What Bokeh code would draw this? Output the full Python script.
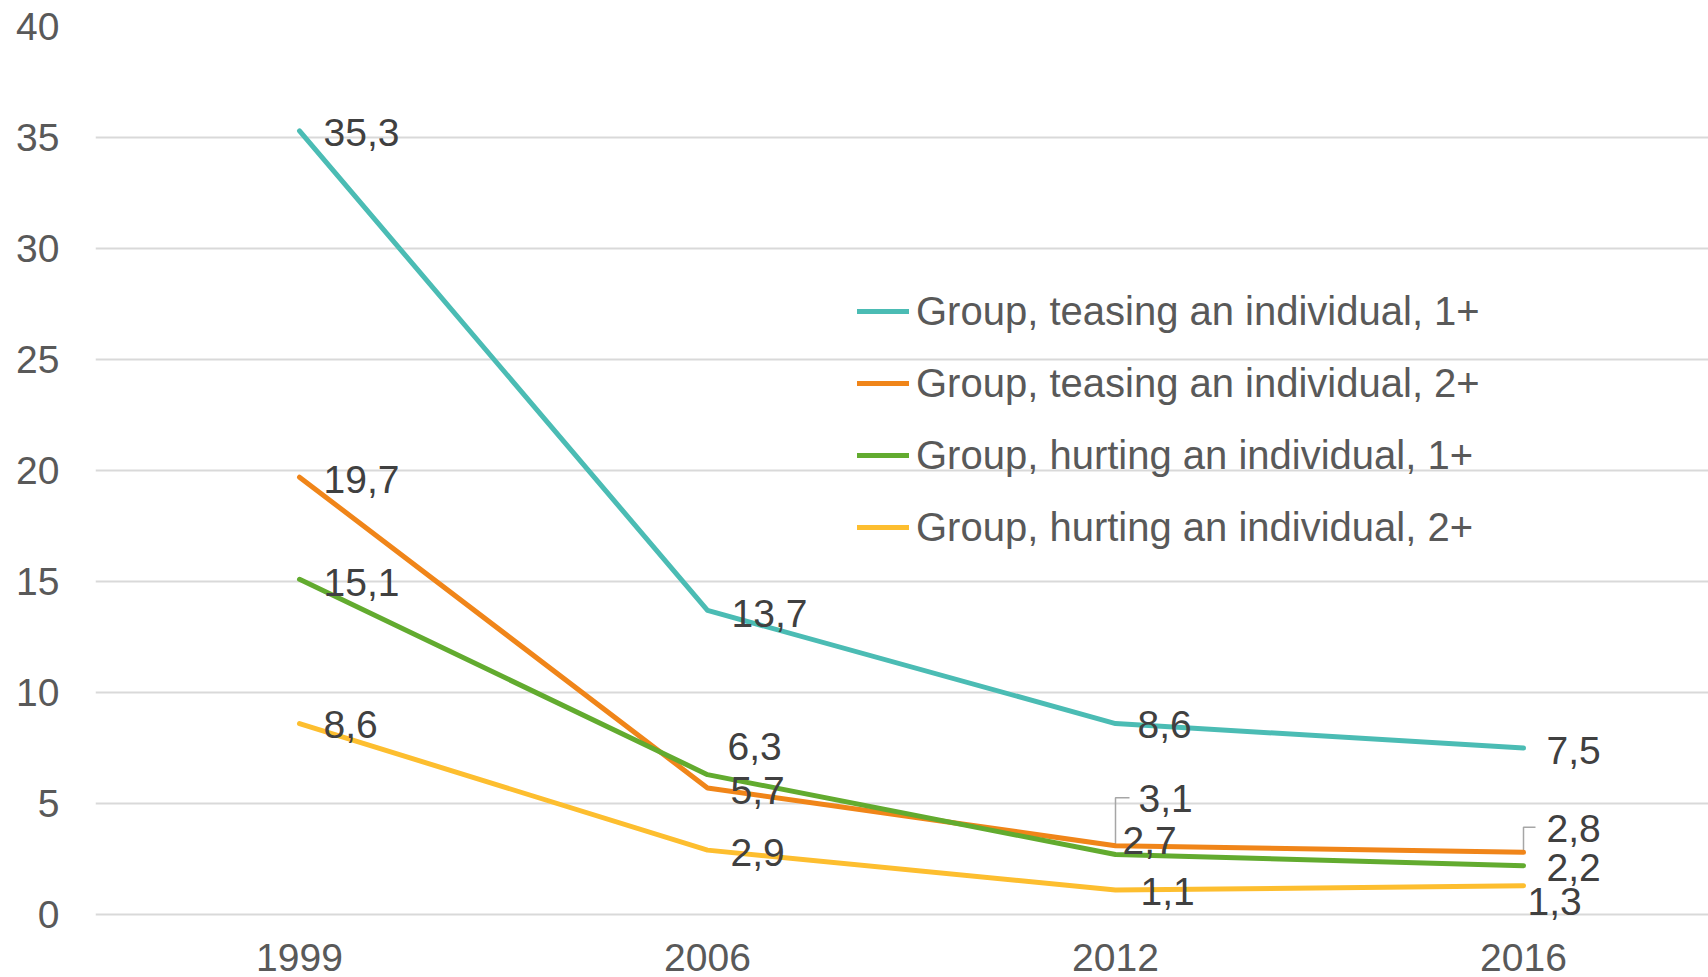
from bokeh.plotting import figure
from bokeh.models import Range1d, FixedTicker, Legend, LegendItem, ColumnDataSource
from bokeh.embed import file_html
from bokeh.resources import INLINE
from bokeh.core.properties import value

# ---------------- data ----------------
years = ["1999", "2006", "2012", "2016"]
series_names = [
    "Group, teasing an individual, 1+",
    "Group, teasing an individual, 2+",
    "Group, hurting an individual, 1+",
    "Group, hurting an individual, 2+",
]
teasing_1 = [35.3, 13.7, 8.6, 7.5]
teasing_2 = [19.7, 5.7, 3.1, 2.8]
hurting_1 = [15.1, 6.3, 2.7, 2.2]
hurting_2 = [8.6, 2.9, 1.1, 1.3]
y_ticks = [0, 5, 10, 15, 20, 25, 30, 35, 40]

# ---------------- styles ----------------
colors = ["#4BBCB4", "#F08519", "#62AB2F", "#FDBE2F"]
# data label offsets in screen px (right, down) per series / point
label_dx = [[24, 24, 22, 23], [24, 23, 23, 23], [24, 20, 7, 23], [24, 23, 25, 4]]
label_dy = [[2, 3, 1, 2], [2, 3, -47, -24], [3, -28, -14, 2], [1, 2, 1, 16]]
# leader lines (series index, point index, rise px, run px)
leaders = [(1, 2, 48, 14), (1, 3, 25, 12)]

W, H = 1708, 977
BL, BR, BT = 95, 0, 26
px_per_x = 408.0
px_per_y = 22.2
pad_bottom_px = 10          # room below the 0 line so labels are not clipped
y_end = 40
y_start = -pad_bottom_px / px_per_y
frame_w = W - BL - BR
frame_h = int(round((y_end - y_start) * px_per_y))
BB = H - BT - frame_h
x_start = -0.5
x_end = x_start + frame_w / px_per_x

FONT = "Liberation Sans"

p = figure(width=W, height=H, output_backend="svg", toolbar_location=None,
           x_range=Range1d(x_start, x_end), y_range=Range1d(y_start, y_end),
           min_border_left=BL, min_border_right=BR, min_border_top=BT,
           min_border_bottom=BB)
p.outline_line_color = None
p.background_fill_color = "white"
p.border_fill_color = "white"

# axes
xs_idx = list(range(len(years)))
p.xaxis.ticker = FixedTicker(ticks=xs_idx)
p.xaxis.major_label_overrides = {i: y for i, y in enumerate(years)}
p.yaxis.ticker = FixedTicker(ticks=y_ticks)
for ax in (p.xaxis, p.yaxis):
    ax.axis_line_color = None
    ax.major_tick_line_color = None
    ax.minor_tick_line_color = None
    ax.major_tick_out = 0
    ax.major_tick_in = 0
    ax.major_label_text_font = FONT
    ax.major_label_text_font_size = "39px"
    ax.major_label_text_color = "#595959"
p.xaxis.major_label_standoff = 29 - pad_bottom_px
p.yaxis.major_label_standoff = 36

p.xgrid.grid_line_color = None
p.ygrid.ticker = FixedTicker(ticks=y_ticks)
p.ygrid.grid_line_color = "#D9D9D9"
p.ygrid.grid_line_width = 2

all_series = [teasing_1, teasing_2, hurting_1, hurting_2]

# leader lines
lx, ly = [], []
for si, pi, rise, run in leaders:
    v = all_series[si][pi]
    top = v + rise / px_per_y
    lx.append([pi, pi, pi + run / px_per_x])
    ly.append([v + 1.0 / px_per_y, top, top])
p.multi_line(lx, ly, line_color="#A6A6A6", line_width=1.5)

renderers = []
for s, vals in enumerate(all_series):
    r = p.line(xs_idx, vals, line_color=colors[s], line_width=5,
               line_join="round", line_cap="round")
    renderers.append(r)

# data labels
tx, ty, tt, tdx, tdy = [], [], [], [], []
for s, vals in enumerate(all_series):
    for i, v in enumerate(vals):
        tx.append(i)
        ty.append(v)
        tt.append(f"{v:.1f}".replace(".", ","))
        tdx.append(label_dx[s][i])
        tdy.append(label_dy[s][i])
src = ColumnDataSource(dict(x=tx, y=ty, text=tt, dx=tdx, dy=tdy))
p.text(x="x", y="y", text="text", x_offset="dx", y_offset="dy", source=src,
       text_font=value(FONT), text_font_size=value("39px"),
       text_color="#404040", text_align="left", text_baseline="middle")

legend = Legend(
    items=[LegendItem(label=series_names[i], renderers=[renderers[i]]) for i in range(4)],
    location=(762, 357 + pad_bottom_px),
    orientation="vertical",
    padding=0, margin=0, spacing=12,
    glyph_width=52, glyph_height=60, label_height=60,
    label_standoff=7,
    label_text_font=FONT, label_text_font_size="40px",
    label_text_color="#595959", label_text_baseline="middle",
    border_line_color=None, background_fill_alpha=0,
)
p.add_layout(legend)

open("out.html", "w").write(file_html(p, INLINE))
